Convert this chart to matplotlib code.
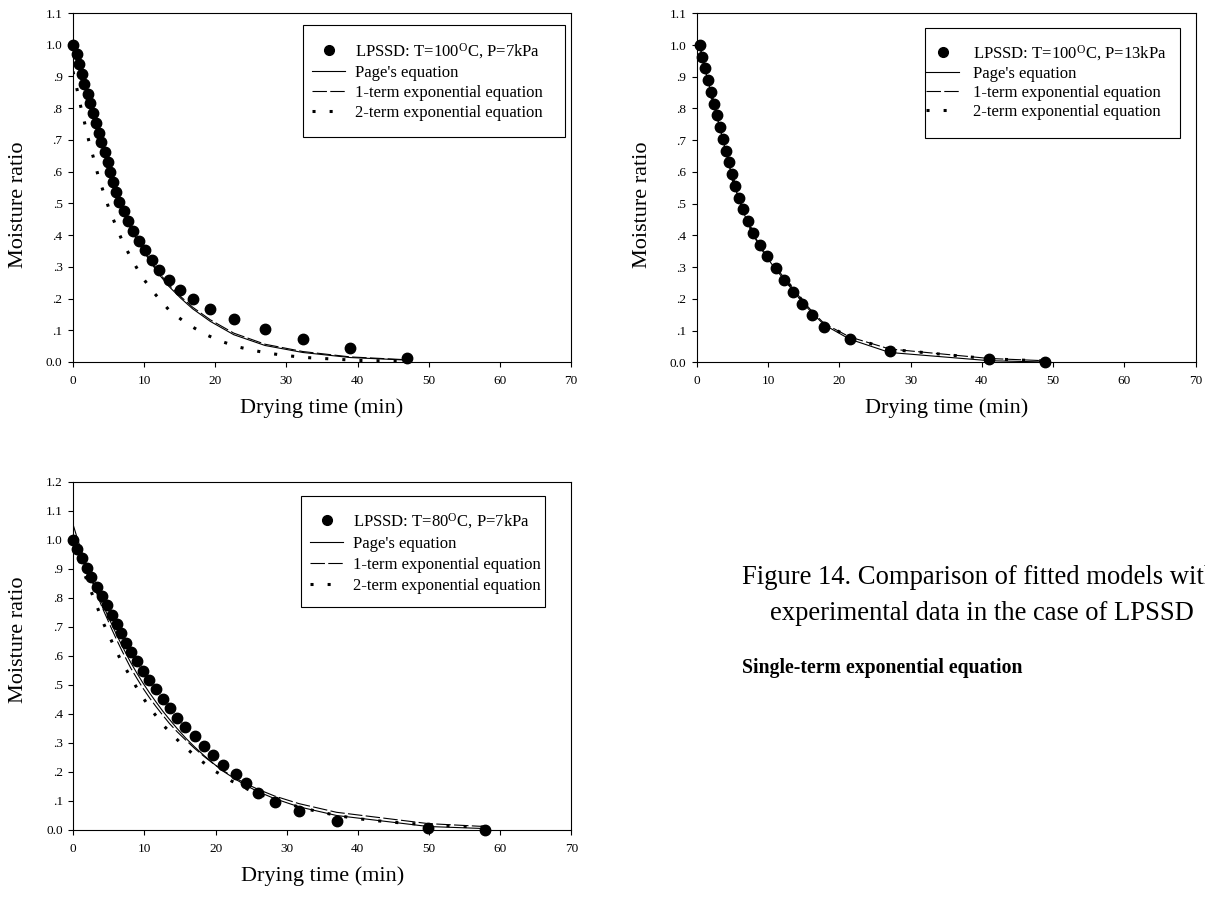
import numpy as np
import matplotlib
matplotlib.use('Agg')
import matplotlib.pyplot as plt
from matplotlib.lines import Line2D
from matplotlib.patches import Rectangle
from matplotlib.ticker import FuncFormatter

plt.rcParams['font.family'] = ['Liberation Serif', 'DejaVu Serif']
plt.rcParams['mathtext.fontset'] = 'custom'
plt.rcParams['mathtext.rm'] = 'Liberation Serif'
plt.rcParams['mathtext.it'] = 'Liberation Serif:italic'

# ---------------- Panel 1: T=100 C, P=7 kPa ----------------
t1 = [0, 0.6, 0.9, 1.2, 1.6, 2.05, 2.4, 2.75, 3.2, 3.6, 4.0, 4.5, 4.9, 5.25, 5.65,
      6.05, 6.45, 7.1, 7.7, 8.5, 9.3, 10.1, 11.05, 12.1, 13.5, 15.1, 16.8, 19.3,
      22.6, 27.0, 32.3, 39.0, 46.95]
mr1 = [1.0, 0.970, 0.939, 0.908, 0.877, 0.846, 0.815, 0.784, 0.753, 0.722, 0.692,
       0.661, 0.629, 0.599, 0.567, 0.537, 0.505, 0.475, 0.444, 0.413, 0.382, 0.352,
       0.321, 0.291, 0.259, 0.228, 0.198, 0.166, 0.136, 0.105, 0.074, 0.043, 0.013]
page1 = [1.0, 0.968, 0.938, 0.907, 0.874, 0.842, 0.812, 0.780, 0.748, 0.716, 0.685,
         0.652, 0.621, 0.592, 0.560, 0.530, 0.500, 0.468, 0.438, 0.404, 0.372, 0.343,
         0.310, 0.276, 0.238, 0.202, 0.168, 0.128, 0.086, 0.052, 0.030, 0.014, 0.006]
one1 = [0.995, 0.965, 0.936, 0.906, 0.874, 0.842, 0.813, 0.782, 0.750, 0.719, 0.688,
        0.655, 0.625, 0.596, 0.564, 0.534, 0.504, 0.473, 0.442, 0.409, 0.377, 0.347,
        0.315, 0.281, 0.243, 0.207, 0.173, 0.133, 0.091, 0.056, 0.033, 0.016, 0.007]
t1_two = [0, 0.56, 1.08, 1.64, 2.2, 2.86, 3.5, 4.26, 5.06, 6.04, 7.03, 8.3, 9.7, 11.5,
          13.6, 16.0, 18.5, 20.85, 23.3, 25.7, 28.0, 30.5, 32.8, 35.2, 37.6, 40.1,
          42.5, 45.0, 47.0]
two1 = [0.916, 0.860, 0.806, 0.753, 0.699, 0.645, 0.590, 0.537, 0.483, 0.429, 0.376,
        0.322, 0.268, 0.215, 0.161, 0.121, 0.088, 0.065, 0.047, 0.035, 0.026, 0.019,
        0.014, 0.011, 0.008, 0.005, 0.004, 0.003, 0.002]

# ---------------- Panel 2: T=100 C, P=13 kPa ----------------
t2 = [0.45, 0.8, 1.17, 1.64, 2.0, 2.43, 2.9, 3.3, 3.74, 4.1, 4.5, 4.9, 5.37, 5.93,
      6.5, 7.15, 7.9, 8.9, 9.86, 11.17, 12.24, 13.46, 14.8, 16.2, 17.9, 21.45, 27.06,
      41.07, 48.8]
mr2 = [1.0, 0.963, 0.927, 0.890, 0.853, 0.815, 0.779, 0.741, 0.704, 0.667, 0.630,
       0.594, 0.556, 0.519, 0.482, 0.444, 0.408, 0.371, 0.334, 0.296, 0.260, 0.222,
       0.185, 0.148, 0.110, 0.074, 0.037, 0.0095, 0.0]
page2 = [1.0, 0.962, 0.924, 0.884, 0.850, 0.809, 0.770, 0.735, 0.697, 0.663, 0.626,
         0.590, 0.552, 0.512, 0.477, 0.440, 0.403, 0.362, 0.330, 0.290, 0.262, 0.227,
         0.190, 0.155, 0.118, 0.073, 0.031, 0.005, 0.001]
one2 = [0.995, 0.958, 0.921, 0.882, 0.848, 0.808, 0.769, 0.734, 0.697, 0.663, 0.627,
        0.592, 0.554, 0.515, 0.480, 0.444, 0.407, 0.367, 0.335, 0.296, 0.268, 0.233,
        0.196, 0.160, 0.122, 0.080, 0.042, 0.012, 0.005]
two2 = [0.995, 0.958, 0.921, 0.882, 0.848, 0.808, 0.769, 0.734, 0.697, 0.663, 0.627,
        0.592, 0.554, 0.515, 0.480, 0.444, 0.407, 0.367, 0.335, 0.296, 0.267, 0.232,
        0.195, 0.159, 0.121, 0.079, 0.041, 0.011, 0.004]

# ---------------- Panel 3: T=80 C, P=7 kPa ----------------
t3 = [0, 0.56, 1.17, 1.88, 2.53, 3.38, 4.0, 4.78, 5.48, 6.14, 6.75, 7.45, 8.1, 8.9,
      9.75, 10.7, 11.6, 12.56, 13.55, 14.58, 15.75, 17.06, 18.4, 19.7, 21.1, 22.8,
      24.3, 25.9, 28.3, 31.7, 37.0, 49.9, 57.8]
mr3 = [1.0, 0.967, 0.936, 0.904, 0.872, 0.838, 0.806, 0.774, 0.742, 0.710, 0.678,
       0.645, 0.613, 0.581, 0.549, 0.517, 0.485, 0.451, 0.419, 0.387, 0.355, 0.323,
       0.291, 0.257, 0.225, 0.193, 0.161, 0.129, 0.096, 0.064, 0.032, 0.006, 0.0]
page3 = [1.0, 0.975, 0.945, 0.905, 0.866, 0.818, 0.784, 0.742, 0.705, 0.670, 0.640,
         0.606, 0.576, 0.542, 0.508, 0.473, 0.442, 0.410, 0.380, 0.350, 0.318, 0.286,
         0.256, 0.229, 0.202, 0.175, 0.153, 0.133, 0.108, 0.080, 0.050, 0.012, 0.005]
one3 = [1.050, 1.005, 0.960, 0.907, 0.865, 0.810, 0.770, 0.727, 0.688, 0.653, 0.622,
        0.588, 0.557, 0.524, 0.490, 0.456, 0.426, 0.396, 0.366, 0.339, 0.311, 0.281,
        0.253, 0.228, 0.204, 0.179, 0.159, 0.141, 0.117, 0.091, 0.061, 0.022, 0.012]
t3_two = [0, 1.5, 2.44, 3.38, 4.3, 5.4, 6.56, 7.9, 9.3, 10.9, 12.8, 15.1, 17.5, 19.9,
          22.3, 24.7, 27.1, 29.5, 31.9, 34.3, 36.7, 39.1, 41.4, 43.9, 46.3, 48.75,
          51.1, 55.0, 57.8]
two3 = [0.985, 0.887, 0.826, 0.767, 0.709, 0.650, 0.591, 0.533, 0.474, 0.416, 0.357,
        0.299, 0.247, 0.203, 0.168, 0.138, 0.115, 0.095, 0.078, 0.064, 0.052, 0.042,
        0.035, 0.029, 0.024, 0.020, 0.016, 0.012, 0.010]

x_ticks = [0, 10, 20, 30, 40, 50, 60, 70]
labels_models = ["Page's equation", "1-term exponential equation",
                 "2-term exponential equation"]
labels_data = ["LPSSD: T=100$^{\\mathrm{O}}$C, P=7kPa",
               "LPSSD: T=100$^{\\mathrm{O}}$C, P=13kPa",
               "LPSSD: T=80$^{\\mathrm{O}}$C, P=7kPa"]

W, H = 1205, 900
fig = plt.figure(figsize=(W / 100, H / 100), dpi=100)

DASH = (0, (13, 3))
DOT = (0, (1, 4.6))


def yfmt(v, pos):
    if abs(v) < 1e-9:
        return '0.0'
    if v > 0.999:
        return f'{v:.1f}'
    return f'{v:.1f}'[1:]


def panel(rect, ymax, td, md, tp, pg, on, tt, tw, lab, leg_box, leg_anchor, htp, ylab_y,
          lsp):
    ax = fig.add_axes(rect)
    ax.plot(tp, pg, color='black', lw=0.8)
    ax.plot(tp, on, color='black', lw=0.8, ls=DASH)
    ax.plot(tt, tw, color='black', lw=2.2, ls=DOT, dash_capstyle='butt')
    ax.plot(td, md, 'o', color='black', ms=7.5, clip_on=False, zorder=5)
    ax.set_xlim(0, 70)
    ax.set_ylim(0, ymax)
    ax.set_xticks(x_ticks)
    ax.set_yticks(np.round(np.arange(0, ymax + 0.001, 0.1), 1))
    ax.yaxis.set_major_formatter(FuncFormatter(yfmt))
    ax.tick_params(direction='out', length=3.5, width=0.8, labelsize=9.5)
    ax.tick_params(axis='x', pad=6)
    ax.tick_params(axis='y', pad=4)
    for s in ax.spines.values():
        s.set_linewidth(0.8)
    ax.set_xlabel('Drying time (min)', fontsize=16, labelpad=8)
    ax.set_ylabel('Moisture ratio', fontsize=16)
    ax.yaxis.set_label_coords(-0.09, ylab_y)
    handles = [Line2D([], [], marker='o', ls='none', color='black', ms=7),
               Line2D([], [], color='black', lw=0.8),
               Line2D([], [], color='black', lw=0.8, ls=DASH),
               Line2D([], [], color='black', lw=2.2, ls=DOT, dash_capstyle='butt')]
    ax.legend(handles, [lab] + labels_models, loc='upper left',
              bbox_to_anchor=leg_anchor, bbox_transform=ax.transAxes,
              frameon=False, fontsize=12, handlelength=2.0, handletextpad=htp,
              borderpad=0, borderaxespad=0, labelspacing=lsp, numpoints=1)
    ax.add_patch(Rectangle(leg_box[:2], leg_box[2], leg_box[3], transform=ax.transAxes,
                           fill=False, lw=0.8, ec='black', zorder=6))
    return ax


panel([73 / W, 1 - 362 / H, 498 / W, 349 / H], 1.1, t1, mr1, t1, page1, one1,
      t1_two, two1, labels_data[0], (0.462, 0.645, 0.526, 0.321), (0.480, 0.920),
      0.55, 0.45, 0.25)
panel([696.7 / W, 1 - 362.3 / H, 499 / W, 349 / H], 1.1, t2, mr2, t2, page2, one2,
      t2, two2, labels_data[1], (0.4575, 0.643, 0.511, 0.314), (0.4595, 0.915),
      0.8, 0.45, 0.18)
panel([73.3 / W, 1 - 830 / H, 498 / W, 348.3 / H], 1.2, t3, mr3, t3, page3, one3,
      t3_two, two3, labels_data[2], (0.4566, 0.641, 0.4906, 0.318), (0.475, 0.915),
      0.6, 0.545, 0.3)

fig.text(742 / W, 1 - 578 / H, 'Figure 14. Comparison of fitted models with',
         fontsize=19.2, ha='left', va='center')
fig.text(770 / W, 1 - 614 / H, 'experimental data in the case of LPSSD',
         fontsize=19.2, ha='left', va='center')
fig.text(742 / W, 1 - 668 / H, 'Single-term exponential equation',
         fontsize=14.2, fontweight='bold', ha='left', va='center')

fig.savefig('out.png', dpi=100)
